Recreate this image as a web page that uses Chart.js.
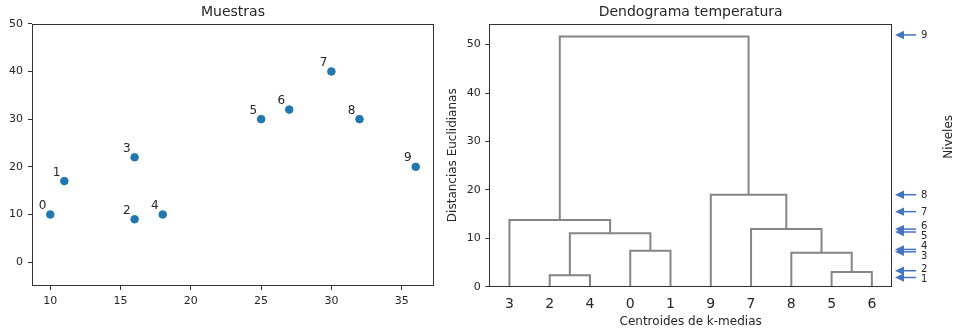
<!DOCTYPE html>
<html>
<head>
<meta charset="utf-8">
<script src="https://cdn.jsdelivr.net/npm/chart.js@4/dist/chart.umd.min.js"></script>
<style>
  html, body { margin: 0; padding: 0; background: #ffffff; }
  #wrap { position: relative; width: 955px; height: 333px; overflow: hidden; }
  #c1 { position: absolute; left: 0; top: 0; }
  #c2 { position: absolute; left: 445px; top: 0; }
</style>
</head>
<body>
<div id="wrap">
  <canvas id="c1" width="445" height="333"></canvas>
  <canvas id="c2" width="510" height="333"></canvas>
</div>
<script>
// ---------- Data: scatter "Muestras" ----------
const sampleIds = ['0', '1', '2', '3', '4', '5', '6', '7', '8', '9'];
const sampleX = [10, 11, 16, 16, 18, 25, 27, 30, 32, 36];
const sampleY = [10, 17, 9, 22, 10, 30, 32, 40, 30, 20];
const scatterXTicks = [10, 15, 20, 25, 30, 35];
const scatterYTicks = [0, 10, 20, 30, 40, 50];

// ---------- Data: dendrogram ----------
const leafOrder = [3, 2, 4, 0, 1, 9, 7, 8, 5, 6];
// merge k creates cluster id 10 + k
const mergeLeft   = [2, 5, 8, 0, 10, 7, 3, 9, 16];
const mergeRight  = [4, 6, 11, 1, 13, 12, 14, 15, 17];
const mergeHeight = [2.35, 3.05, 7.0, 7.4, 11.05, 11.9, 13.8, 19.0, 51.7];
const dendroYTicks = [0, 10, 20, 30, 40, 50];
const levelLabels = ['1', '2', '3', '4', '5', '6', '7', '8', '9'];
const levelValues = [1.9, 3.3, 7.2, 7.7, 11.3, 11.9, 15.5, 19.0, 52.0];

// ---------- Styling ----------
Chart.defaults.font.family = "'DejaVu Sans', sans-serif";
Chart.defaults.color = '#262626';
const FRAME = '#333333';
const POINT = '#1f77b4';
const LINK = '#858585';
const ARROW = '#4472C4';

const framePlugin = {
  id: 'frame',
  afterDraw(chart) {
    const a = chart.chartArea, ctx = chart.ctx;
    ctx.save();
    ctx.strokeStyle = FRAME;
    ctx.lineWidth = 1;
    ctx.strokeRect(Math.round(a.left) + 0.5, Math.round(a.top) + 0.5,
                   Math.round(a.right - a.left) - 1, Math.round(a.bottom - a.top) - 1);
    ctx.restore();
  }
};

// ---------- Chart 1: Muestras ----------
const pointLabelPlugin = {
  id: 'pointLabels',
  afterDatasetsDraw(chart) {
    const meta = chart.getDatasetMeta(0);
    const ctx = chart.ctx;
    ctx.save();
    ctx.font = "12px 'DejaVu Sans'";
    ctx.fillStyle = '#262626';
    ctx.textAlign = 'right';
    ctx.textBaseline = 'alphabetic';
    meta.data.forEach((el, i) => {
      ctx.fillText(sampleIds[i], el.x - 4, el.y - 5.5);
    });
    ctx.restore();
  }
};

new Chart(document.getElementById('c1'), {
  type: 'scatter',
  data: {
    datasets: [{
      data: sampleX.map((x, i) => ({ x: x, y: sampleY[i] })),
      backgroundColor: POINT,
      borderColor: POINT,
      pointRadius: 3.8,
      pointHoverRadius: 3.8
    }]
  },
  options: {
    responsive: false,
    animation: false,
    events: [],
    layout: { padding: { left: 0, right: 11, top: 0, bottom: 0 } },
    plugins: {
      legend: { display: false },
      tooltip: { enabled: false },
      title: {
        display: true, text: 'Muestras', fullSize: false,
        font: { size: 14, weight: 'normal' }, color: '#262626',
        padding: { top: 4, bottom: 3 }
      }
    },
    scales: {
      x: {
        type: 'linear', min: 8.7, max: 37.3,
        afterBuildTicks: s => { s.ticks = scatterXTicks.map(v => ({ value: v })); },
        afterFit: s => { s.height = 47; },
        grid: { display: true, drawOnChartArea: false, drawTicks: true, tickLength: 4, tickColor: FRAME },
        border: { display: false },
        ticks: { font: { size: 11 }, padding: 5, maxRotation: 0, autoSkip: false, color: '#262626' }
      },
      y: {
        type: 'linear', min: -5, max: 50,
        afterBuildTicks: s => { s.ticks = scatterYTicks.map(v => ({ value: v })); },
        afterFit: s => { s.width = 32; },
        grid: { display: true, drawOnChartArea: false, drawTicks: true, tickLength: 4, tickColor: FRAME },
        border: { display: false },
        ticks: { font: { size: 11 }, padding: 5, autoSkip: false, color: '#262626' }
      }
    }
  },
  plugins: [framePlugin, pointLabelPlugin]
});

// ---------- Chart 2: Dendrograma ----------
const leafPos = {};
leafOrder.forEach((leaf, i) => { leafPos[leaf] = 5 + 10 * i; });
const nodeX = {}, nodeH = {};
leafOrder.forEach(leaf => { nodeX[leaf] = leafPos[leaf]; nodeH[leaf] = 0; });
const linkSets = [];
mergeLeft.forEach((l, k) => {
  const r = mergeRight[k];
  const id = 10 + k;
  const h = mergeHeight[k];
  let a = l, b = r;
  if (nodeX[a] > nodeX[b]) { a = r; b = l; }
  linkSets.push({
    data: [
      { x: nodeX[a], y: nodeH[a] },
      { x: nodeX[a], y: h },
      { x: nodeX[b], y: h },
      { x: nodeX[b], y: nodeH[b] }
    ],
    showLine: true,
    borderColor: LINK,
    borderWidth: 2,
    pointRadius: 0,
    pointHoverRadius: 0,
    fill: false,
    tension: 0
  });
  nodeX[id] = (nodeX[a] + nodeX[b]) / 2;
  nodeH[id] = h;
});

const levelsPlugin = {
  id: 'levels',
  afterDraw(chart) {
    const ctx = chart.ctx, a = chart.chartArea, ys = chart.scales.y;
    const px = levelValues.map(v => ys.getPixelForValue(v));
    // label positions, spread apart where arrows are close together
    const ly = px.slice();
    for (let i = 0; i < px.length - 1; i++) {
      if (Math.abs(px[i] - px[i + 1]) < 9) {
        const mid = (px[i] + px[i + 1]) / 2;
        ly[i] = mid + 5;
        ly[i + 1] = mid - 5;
        i++;
      }
    }
    ctx.save();
    const tipX = a.right + 3, tailX = a.right + 24;
    px.forEach((y, i) => {
      ctx.strokeStyle = ARROW;
      ctx.fillStyle = ARROW;
      ctx.lineWidth = 1.5;
      ctx.beginPath();
      ctx.moveTo(tipX + 6, y);
      ctx.lineTo(tailX, y);
      ctx.stroke();
      ctx.beginPath();
      ctx.moveTo(tipX, y);
      ctx.lineTo(tipX + 9, y - 4.2);
      ctx.lineTo(tipX + 9, y + 4.2);
      ctx.closePath();
      ctx.fill();
      ctx.fillStyle = '#262626';
      ctx.font = "10px 'DejaVu Sans'";
      ctx.textAlign = 'left';
      ctx.textBaseline = 'middle';
      ctx.fillText(levelLabels[i], a.right + 29, ly[i] + 0.5);
    });
    ctx.translate(a.right + 57, a.top + 113);
    ctx.rotate(-Math.PI / 2);
    ctx.font = "12px 'DejaVu Sans'";
    ctx.textAlign = 'center';
    ctx.textBaseline = 'middle';
    ctx.fillStyle = '#262626';
    ctx.fillText('Niveles', 0, 0);
    ctx.restore();
  }
};

new Chart(document.getElementById('c2'), {
  type: 'scatter',
  data: { datasets: linkSets },
  options: {
    responsive: false,
    animation: false,
    events: [],
    layout: { padding: { left: 0, right: 63, top: 0, bottom: 0 } },
    plugins: {
      legend: { display: false },
      tooltip: { enabled: false },
      title: {
        display: true, text: 'Dendograma temperatura', fullSize: false,
        font: { size: 14, weight: 'normal' }, color: '#262626',
        padding: { top: 4, bottom: 3 }
      }
    },
    scales: {
      x: {
        type: 'linear', min: 0, max: 100,
        afterBuildTicks: s => { s.ticks = leafOrder.map(l => ({ value: leafPos[l] })); },
        afterFit: s => { s.height = 46.3; },
        grid: { display: false, drawTicks: false, tickLength: 0 },
        border: { display: false },
        title: {
          display: true, text: 'Centroides de k-medias',
          font: { size: 12 }, color: '#262626', padding: { top: 0, bottom: 4 }
        },
        ticks: {
          font: { size: 14 }, padding: 9, maxRotation: 0, autoSkip: false, color: '#262626',
          callback: v => String(leafOrder[Math.round((v - 5) / 10)])
        }
      },
      y: {
        type: 'linear', min: 0, max: 54.3,
        afterBuildTicks: s => { s.ticks = dendroYTicks.map(v => ({ value: v })); },
        afterFit: s => { s.width = 44.3; },
        grid: { display: true, drawOnChartArea: false, drawTicks: true, tickLength: 4, tickColor: FRAME },
        border: { display: false },
        title: {
          display: true, text: 'Distancias Euclidianas',
          font: { size: 12 }, color: '#262626', padding: { top: 1, bottom: 0 }
        },
        ticks: { font: { size: 11 }, padding: 4.5, autoSkip: false, color: '#262626' }
      }
    }
  },
  plugins: [framePlugin, levelsPlugin]
});
</script>
</body>
</html>
